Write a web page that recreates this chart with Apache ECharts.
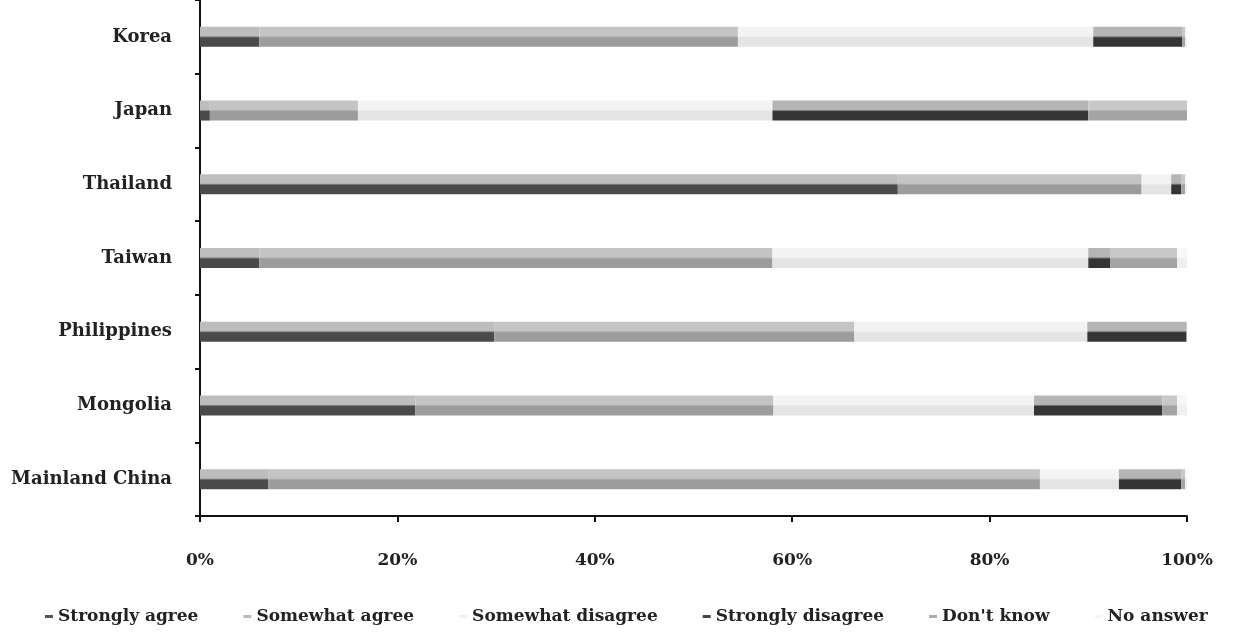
<!DOCTYPE html>
<html>
<head>
<meta charset="utf-8">
<script src="https://cdn.jsdelivr.net/npm/echarts@6/dist/echarts.min.js"></script>
<style>html,body{margin:0;padding:0;background:#fff}#c{width:1238px;height:636px}</style>
</head>
<body>
<div id="c"></div>
<script>
// Categories listed bottom-to-top (category axis starts at bottom)
const categories = ["Mainland China", "Mongolia", "Philippines", "Taiwan", "Thailand", "Japan", "Korea"];
const seriesNames = ["Strongly agree", "Somewhat agree", "Somewhat disagree", "Strongly disagree", "Don't know", "No answer"];
const stronglyAgree    = [6.9, 21.8, 29.8, 6.0, 70.7, 1.0, 6.0];
const somewhatAgree    = [78.2, 36.3, 36.5, 52.0, 24.7, 15.0, 48.5];
const somewhatDisagree = [8.0, 26.4, 23.6, 32.0, 3.0, 42.0, 36.0];
const stronglyDisagree = [6.3, 13.0, 10.0, 2.2, 1.0, 32.0, 9.0];
const dontKnow         = [0.4, 1.5, 0.1, 6.8, 0.4, 10.0, 0.3];
const noAnswer         = [0.2, 1.0, 0.0, 1.0, 0.2, 0.0, 0.2];
const xTickLabels = ["0%", "20%", "40%", "60%", "80%", "100%"];

const values = [stronglyAgree, somewhatAgree, somewhatDisagree, stronglyDisagree, dontKnow, noAnswer];
function split(top, bottom) {
  return {type: 'linear', x: 0, y: 0, x2: 0, y2: 1,
    colorStops: [{offset: 0, color: top}, {offset: 0.45, color: top}, {offset: 0.55, color: bottom}, {offset: 1, color: bottom}]};
}
const fills = [
  split('#bdbdbd', '#4a4a4a'),
  split('#c4c4c4', '#9c9c9c'),
  split('#f3f3f3', '#e4e4e4'),
  split('#b5b5b5', '#353535'),
  split('#c8c8c8', '#a4a4a4'),
  split('#f7f7f7', '#efefef')
];
const legendColors = ['#555', '#bbb', '#f0f0f0', '#444', '#aaa', '#f5f5f5'];

const chart = echarts.init(document.getElementById('c'), null, {renderer: 'canvas'});
chart.setOption({
  animation: false,
  backgroundColor: '#fff',
  grid: {left: 200, right: 51, top: -7, bottom: 120, containLabel: false},
  xAxis: {
    type: 'value', min: 0, max: 100, interval: 20,
    axisLine: {show: true, lineStyle: {color: '#111', width: 2}},
    axisTick: {show: true, length: 6, lineStyle: {color: '#111', width: 2}},
    splitLine: {show: false},
    axisLabel: {
      margin: 36,
      formatter: function (v) { return xTickLabels[Math.round(v / 20)]; },
      fontFamily: 'DejaVu Serif', fontWeight: 'bold', fontSize: 17, color: '#222'
    }
  },
  yAxis: {
    type: 'category', data: categories,
    axisLine: {show: true, lineStyle: {color: '#111', width: 2}},
    axisTick: {show: true, length: 5, inside: false, lineStyle: {color: '#111', width: 2}},
    axisLabel: {margin: 28, fontFamily: 'DejaVu Serif', fontWeight: 'bold', fontSize: 18, color: '#222'}
  },
  legend: {
    bottom: 6, left: 40, itemGap: 45, itemWidth: 8, itemHeight: 3,
    textStyle: {fontFamily: 'DejaVu Serif', fontWeight: 'bold', fontSize: 17, color: '#222'},
    data: seriesNames.map((n, i) => ({name: n, icon: 'rect', itemStyle: {color: legendColors[i]}}))
  },
  series: seriesNames.map((n, i) => ({
    name: n, type: 'bar', stack: 'total', barWidth: 20,
    data: values[i],
    itemStyle: {color: fills[i]}
  }))
});
</script>
</body>
</html>
